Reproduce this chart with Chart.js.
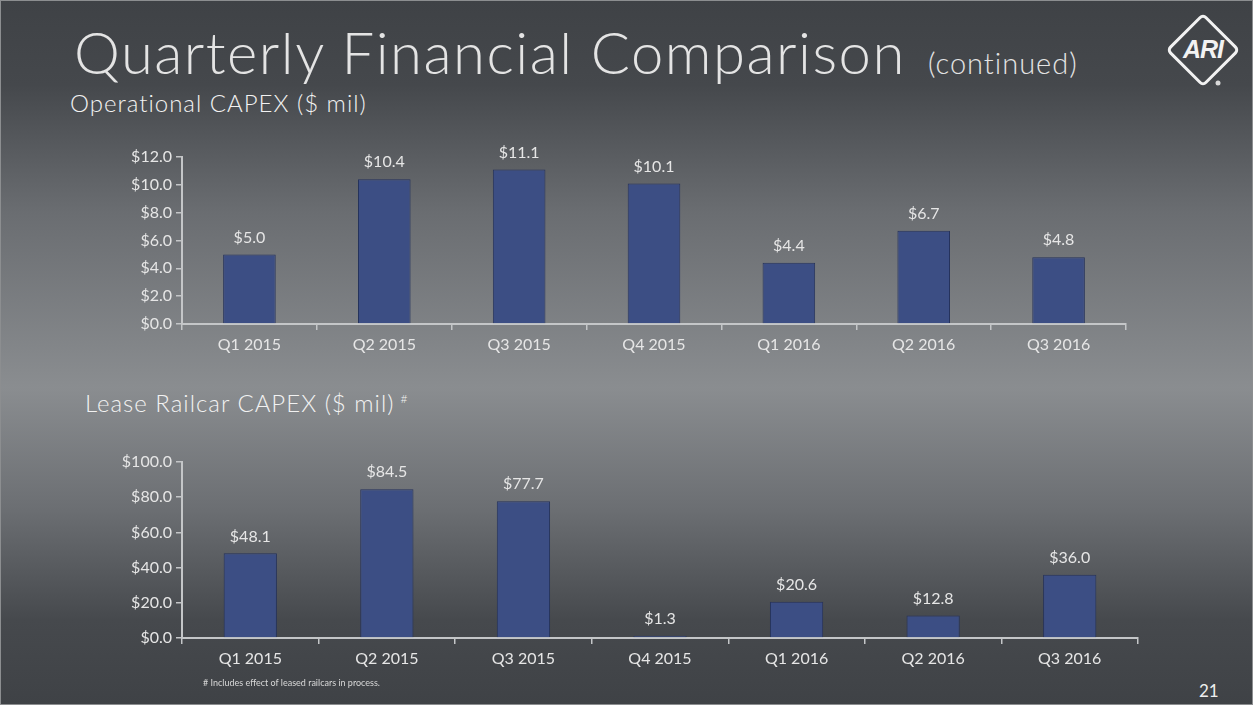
<!DOCTYPE html>
<html>
<head>
<meta charset="utf-8">
<script src="https://cdn.jsdelivr.net/npm/chart.js@4"></script>
<style>
  html, body { margin: 0; padding: 0; }
  body {
    width: 1253px; height: 705px; overflow: hidden; position: relative;
    background: linear-gradient(180deg, #3f4246 0%, #45484c 12%, #6a6d71 30%, #8a8d90 55%, #6c6f73 72%, #46494d 88%, #3f4246 100%);
    font-family: Lato, sans-serif; color: #e8e8e8;
  }
  .frame { position: absolute; left: 0; top: 0; width: 1251px; height: 703px; border: 1px solid #8c8e90; }
  .title { position: absolute; left: 74px; top: 17px; font-size: 58px; font-weight: 300; letter-spacing: 1.5px; color: #e4e4e4; white-space: nowrap; }
  .title small { font-size: 29px; font-weight: 300; letter-spacing: 1px; margin-left: 22px; }
  .sub { position: absolute; font-size: 24px; font-weight: 300; letter-spacing: 1px; color: #f2f2f2; white-space: nowrap; }
  .sub sup { font-size: 12px; margin-left: 6px; }
  .note { position: absolute; left: 203px; top: 677px; font-size: 9px; color: #d8d8d8; }
  .page { position: absolute; left: 1199px; top: 680px; font-size: 17px; color: #eeeeee; }
  .box { position: absolute; }
  .logo { position: absolute; left: 1163px; top: 10px; }
</style>
</head>
<body>
<div class="frame"></div>
<div class="title">Quarterly Financial Comparison<small>(continued)</small></div>
<svg class="logo" width="84" height="84" viewBox="0 0 84 84">
  <rect x="15" y="15" width="50" height="50" rx="4" transform="rotate(45 40 40)" fill="none" stroke="#f2f2f2" stroke-width="3"/>
  <text x="40" y="48" text-anchor="middle" font-family="Liberation Sans" font-weight="bold" font-style="italic" font-size="25" fill="#f2f2f2" letter-spacing="-1">ARI</text>
  <circle cx="55" cy="73" r="2.5" fill="#d8d8d8"/>
</svg>
<div class="sub" style="left:70px; top:88px;">Operational CAPEX ($ mil)</div>
<div class="sub" style="left:85px; top:388px;">Lease Railcar CAPEX ($ mil)<sup>#</sup></div>
<div class="box" style="left:100px; top:130px; width:1030px; height:234px;"><canvas id="c1"></canvas></div>
<div class="box" style="left:92px; top:430px; width:1050px; height:248px;"><canvas id="c2"></canvas></div>
<div class="note"># Includes effect of leased railcars in process.</div>
<div class="page">21</div>
<script>
const quarters = ["Q1 2015", "Q2 2015", "Q3 2015", "Q4 2015", "Q1 2016", "Q2 2016", "Q3 2016"];
const operationalCapex = [5.0, 10.4, 11.1, 10.1, 4.4, 6.7, 4.8];
const leaseRailcarCapex = [48.1, 84.5, 77.7, 1.3, 20.6, 12.8, 36.0];
const opTicks = { min: 0, max: 12, step: 2 };
const leaseTicks = { min: 0, max: 100, step: 20 };

const axisColor = "#c4c6c8";
const textColor = "#e6e6e6";
const fontFamily = "Lato, 'Open Sans', sans-serif";

// draws the value above each bar
const valueLabels = {
  id: "valueLabels",
  afterDatasetsDraw(chart) {
    const ctx = chart.ctx;
    const meta = chart.getDatasetMeta(0);
    const data = chart.data.datasets[0].data;
    ctx.save();
    ctx.font = "16px " + fontFamily;
    ctx.fillStyle = textColor;
    ctx.textAlign = "center";
    ctx.textBaseline = "bottom";
    meta.data.forEach((bar, i) => {
      ctx.fillText("$" + data[i].toFixed(1), bar.x, bar.y - 9);
    });
    ctx.restore();
  }
};

function makeChart(id, values, t, yWidth, padTop) {
  const c = document.getElementById(id);
  return new Chart(c, {
    type: "bar",
    data: {
      labels: quarters,
      datasets: [{
        data: values,
        backgroundColor: "#3c4e84",
        borderColor: "#26335c",
        borderWidth: 1,
        barPercentage: 0.39,
        categoryPercentage: 1.0
      }]
    },
    options: {
      responsive: true,
      maintainAspectRatio: false,
      animation: false,
      layout: { padding: { top: padTop, right: 4 } },
      plugins: { legend: { display: false }, tooltip: { enabled: false } },
      scales: {
        x: {
          grid: { offset: true, drawOnChartArea: false, drawTicks: true, tickLength: 6, color: axisColor, lineWidth: 1.5 },
          border: { display: true, color: axisColor, width: 2 },
          ticks: { color: textColor, font: { family: fontFamily, size: 16 }, padding: 5 },
          afterFit: s => { s.height = 40; }
        },
        y: {
          min: t.min, max: t.max,
          grid: { drawOnChartArea: false, drawTicks: true, tickLength: 6, color: axisColor, lineWidth: 1.5 },
          border: { display: true, color: axisColor, width: 2 },
          ticks: {
            stepSize: t.step, color: textColor, font: { family: fontFamily, size: 16 }, padding: 4,
            callback: v => "$" + Number(v).toFixed(1)
          },
          afterFit: s => { s.width = yWidth; }
        }
      }
    },
    plugins: [valueLabels]
  });
}

makeChart("c1", operationalCapex, opTicks, 82, 27);
makeChart("c2", leaseRailcarCapex, leaseTicks, 90, 32);
</script>
</body>
</html>
